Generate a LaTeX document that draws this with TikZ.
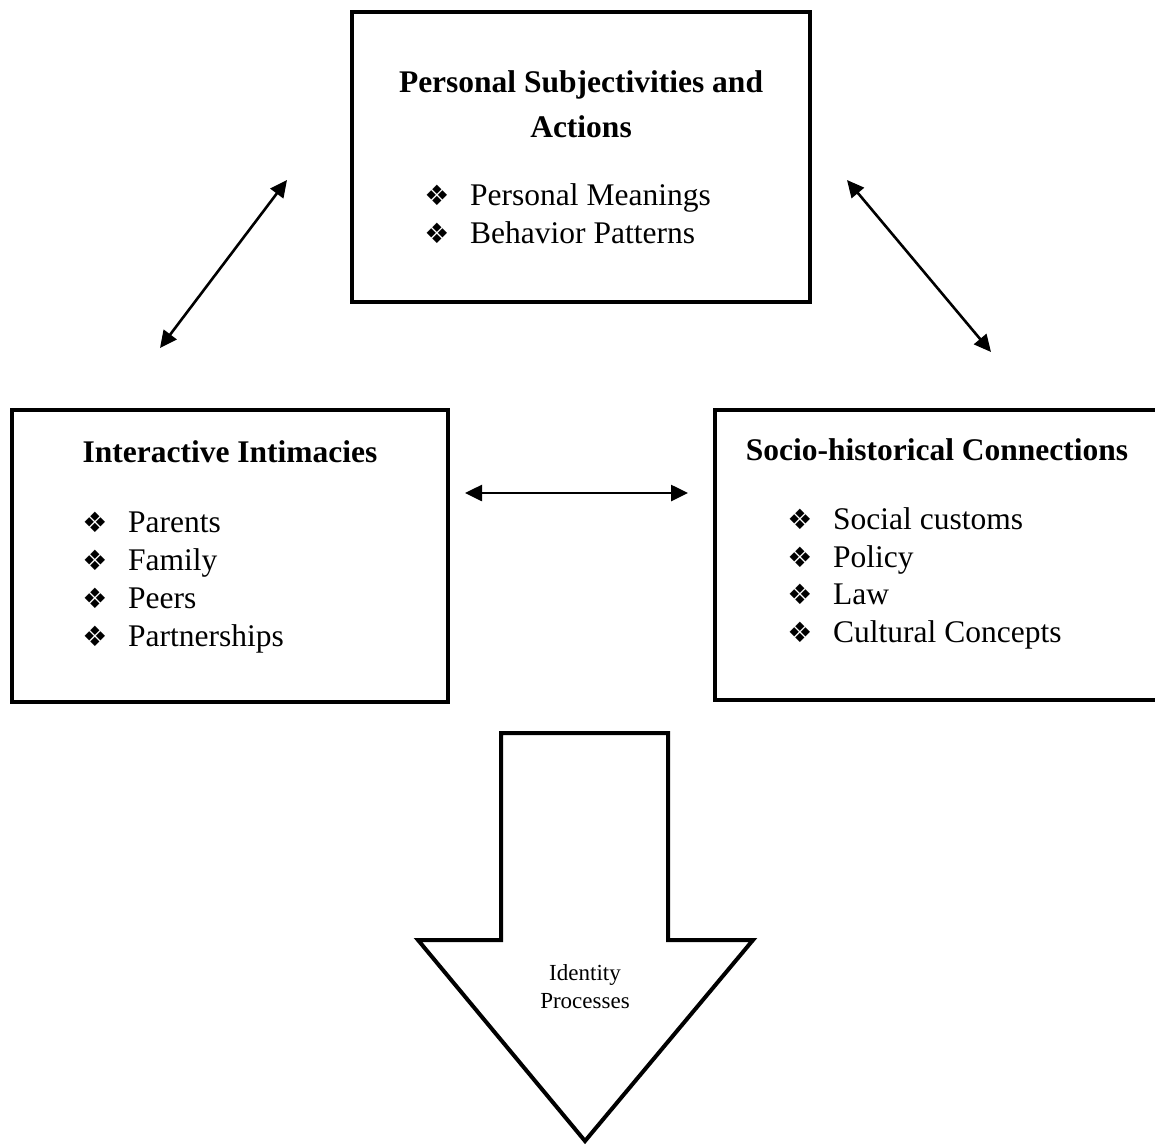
\documentclass[tikz,border=0pt]{standalone}
\usepackage{fontspec}
\setmainfont{Liberation Serif}
\newfontfamily\symfont{DejaVu Sans}
\usetikzlibrary{arrows.meta}
\tikzset{
  boxframe/.style={draw=black, line width=4.5pt, fill=white, inner sep=0pt},
  titletext/.style={font=\fontsize{31.5}{36}\selectfont\bfseries, inner sep=0pt, anchor=base},
  itemtext/.style={font=\fontsize{31.5}{36}\selectfont, inner sep=0pt, anchor=base west},
  bulletmark/.style={font=\symfont\fontsize{28}{30}\selectfont, inner sep=0pt, anchor=base},
  linkarrow/.style={line width=2.6pt, {Triangle[length=17pt,width=16pt]}-{Triangle[length=17pt,width=16pt]}},
  bigarrow/.style={draw=black, line width=4pt, fill=white, line join=miter},
  arrowtext/.style={font=\fontsize{23}{28}\selectfont, inner sep=0pt, anchor=base}
}
\begin{document}
\begin{tikzpicture}[x=1pt,y=-1pt]
\useasboundingbox[fill=white] (0,0) rectangle (1155,1146);
% boxes
\node[boxframe, minimum width=458pt, minimum height=290pt] (top) at (581,157) {};
\node[boxframe, minimum width=436pt, minimum height=292pt] (left) at (230,556) {};
\node[boxframe, minimum width=445pt, minimum height=290pt] (right) at (937.5,555) {};
% top box text
\node[titletext] (t1) at (581,92) {Personal Subjectivities and};
\node[titletext] (t2) at (581,137) {Actions};
\node[bulletmark] (tb1) at (437,205) {❖};
\node[itemtext] (ti1) at (470,205) {Personal Meanings};
\node[bulletmark] (tb2) at (437,243) {❖};
\node[itemtext] (ti2) at (470,243) {Behavior Patterns};
% left box text
\node[titletext] (l1) at (230,462) {Interactive Intimacies};
\node[bulletmark] (lb1) at (95,532) {❖};
\node[itemtext] (li1) at (128,532) {Parents};
\node[bulletmark] (lb2) at (95,570) {❖};
\node[itemtext] (li2) at (128,570) {Family};
\node[bulletmark] (lb3) at (95,608) {❖};
\node[itemtext] (li3) at (128,608) {Peers};
\node[bulletmark] (lb4) at (95,646) {❖};
\node[itemtext] (li4) at (128,646) {Partnerships};
% right box text
\node[titletext] (r1) at (937,460) {Socio-historical Connections};
\node[bulletmark] (rb1) at (800,529) {❖};
\node[itemtext] (ri1) at (833,529) {Social customs};
\node[bulletmark] (rb2) at (800,567) {❖};
\node[itemtext] (ri2) at (833,567) {Policy};
\node[bulletmark] (rb3) at (800,604) {❖};
\node[itemtext] (ri3) at (833,604) {Law};
\node[bulletmark] (rb4) at (800,642) {❖};
\node[itemtext] (ri4) at (833,642) {Cultural Concepts};
% connector ends
\coordinate (a1s) at (160,348);
\coordinate (a1e) at (287,180);
\coordinate (a2s) at (847,180);
\coordinate (a2e) at (991,352);
\coordinate (a3s) at (465,493);
\coordinate (a3e) at (688,493);
\draw[linkarrow] (a1s) -- (a1e);
\draw[linkarrow] (a2s) -- (a2e);
\draw[linkarrow] (a3s) -- (a3e);
% big down arrow
\draw[bigarrow] (501,733) -- (668,733) -- (668,940) -- (753,940) -- (585,1141) -- (418,940) -- (501,940) -- cycle;
\node[arrowtext] (id1) at (585,980) {Identity};
\node[arrowtext] (id2) at (585,1008) {Processes};
\end{tikzpicture}
\end{document}
